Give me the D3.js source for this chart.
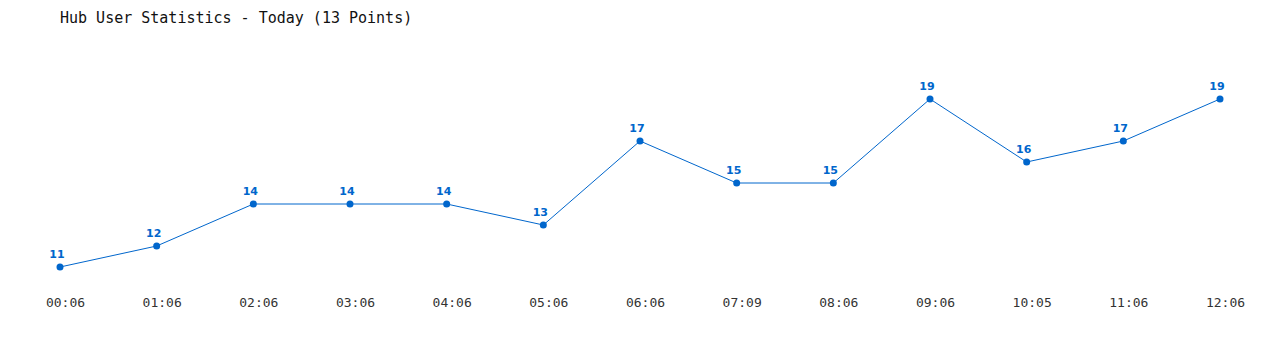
<!DOCTYPE html>
<html>
<head>
<meta charset="utf-8">
<script src="https://cdn.jsdelivr.net/npm/d3@7"></script>
<style>
  body { margin: 0; background: #fff; }
</style>
</head>
<body>
<div id="chart"></div>
<script>
// data
const times = ["00:06", "01:06", "02:06", "03:06", "04:06", "05:06", "06:06",
  "07:09", "08:06", "09:06", "10:05", "11:06", "12:06"];
const users = [11, 12, 14, 14, 14, 13, 17, 15, 15, 19, 16, 17, 19];
const title = "Hub User Statistics - Today (13 Points)";

const width = 1280, height = 350;
const lineColor = "#0066cc";

const svg = d3.select("#chart")
  .append("svg")
  .attr("width", width)
  .attr("height", height);

// title
svg.append("text")
  .attr("x", 60)
  .attr("y", 23)
  .attr("font-family", "DejaVu Sans Mono, monospace")
  .attr("font-size", 15)
  .attr("fill", "#111")
  .text(title);

const x = d3.scalePoint()
  .domain(times)
  .range([60, 1220]);

const y = d3.scaleLinear()
  .domain([d3.min(users) - 1, d3.max(users) + 1])
  .range([288, 78]);

// x axis labels only (they sit a little right of the points)
const xAxis = svg.append("g")
  .attr("transform", "translate(5,296)")
  .call(d3.axisBottom(x).tickSize(0).tickPadding(0));
xAxis.select(".domain").remove();
xAxis.selectAll("text")
  .attr("dy", "0.71em")
  .attr("y", 2)
  .attr("font-family", "DejaVu Sans Mono, monospace")
  .attr("font-size", 13)
  .attr("fill", "#333");

const pts = times.map((t, i) => ({ t: t, v: users[i] }));

// the line
svg.append("path")
  .datum(pts)
  .attr("fill", "none")
  .attr("stroke", lineColor)
  .attr("stroke-width", 1)
  .attr("d", d3.line()
    .x(function (d) { return x(d.t); })
    .y(function (d) { return y(d.v); }));

// points
svg.selectAll("circle.pt")
  .data(pts)
  .join("circle")
  .attr("class", "pt")
  .attr("cx", d => x(d.t))
  .attr("cy", d => y(d.v))
  .attr("r", 3.5)
  .attr("fill", lineColor);

// value labels
svg.selectAll("text.val")
  .data(pts)
  .join("text")
  .attr("class", "val")
  .attr("x", d => x(d.t) - 3)
  .attr("y", d => y(d.v) - 9)
  .attr("text-anchor", "middle")
  .attr("font-family", "DejaVu Sans, Verdana, sans-serif")
  .attr("font-weight", "bold")
  .attr("font-size", 11)
  .attr("fill", lineColor)
  .text(d => d.v);
</script>
</body>
</html>
